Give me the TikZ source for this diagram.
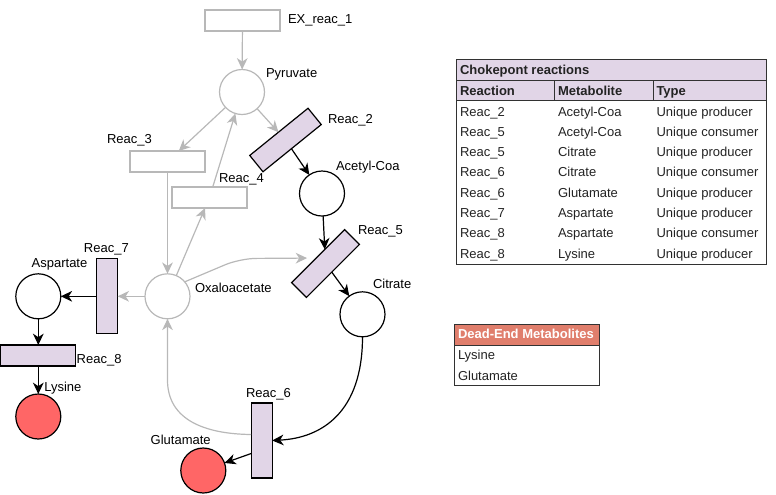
\documentclass[tikz,border=0pt]{standalone}
\usepackage{fontspec}
\setmainfont{Liberation Sans}
\usetikzlibrary{arrows.meta,calc}
\definecolor{lgray}{RGB}{184,184,184}
\definecolor{lpurple}{RGB}{225,213,231}
\definecolor{lred}{RGB}{255,102,102}
\definecolor{dehead}{RGB}{224,126,108}
\definecolor{tabline}{RGB}{50,50,50}
\definecolor{tabtext}{RGB}{35,35,35}
\tikzset{
  arr/.style={line width=0.9pt, draw=black, arrows={-Stealth[length=8.5pt,width=8pt,inset=2.6pt]}},
  garr/.style={arr, draw=lgray},
}
\begin{document}
\begin{tikzpicture}[x=0.75pt,y=-0.75pt,
  font=\fontsize{9.75}{11.7}\selectfont,
  every node/.style={inner sep=0pt, outer sep=0pt},
  reac/.style={draw=black, fill=lpurple, line width=0.9pt, minimum width=56.25pt, minimum height=15.75pt},
  reacv/.style={reac, minimum width=15.75pt, minimum height=56.25pt},
  reacgray/.style={reac, draw=lgray, fill=white},
  met/.style={circle, draw=black, fill=white, line width=0.9pt, minimum size=33.75pt},
  metgray/.style={met, draw=lgray},
  metred/.style={met, fill=lred},
  lbl/.style={anchor=base west, text=black},
  tline/.style={draw=tabline, line width=0.6pt},
  thead/.style={anchor=base west, text=tabtext, font=\fontsize{9.75}{11.7}\selectfont\bfseries},
  tcell/.style={anchor=base west, text=tabtext},
]
\useasboundingbox (0,0) rectangle (776,494);

% ---------- nodes ----------
\node[reacgray] (ex) at (242.5,20.5) {};
\node[lbl] (exl) at (288,23) {EX\_reac\_1};
\node[metgray] (pyr) at (242,92) {};
\node[lbl] (pyrl) at (266,77) {Pyruvate};
\node[reac, rotate=39] (r2) at (285.5,140) {};
\node[lbl] (r2l) at (328,123) {Reac\_2};
\node[met] (acoa) at (322,193.5) {};
\node[lbl] (acoal) at (336,170) {Acetyl-Coa};
\node[reacgray] (r3) at (167.5,161.5) {};
\node[lbl] (r3l) at (107,143) {Reac\_3};
\node[reacgray] (r4) at (209.5,197.5) {};
\node[lbl] (r4l) at (219,182.7) {Reac\_4};
\node[reac, rotate=45] (r5) at (325.5,263.5) {};
\node[lbl] (r5l) at (358,234) {Reac\_5};
\node[met] (cit) at (362.5,314.3) {};
\node[lbl] (citl) at (373,288.3) {Citrate};
\node[metgray] (oxa) at (167.5,296.3) {};
\node[lbl] (oxal) at (195,292.3) {Oxaloacetate};
\node[reacv] (r7) at (107.2,296.3) {};
\node[lbl] (r7l) at (84,252.7) {Reac\_7};
\node[met] (asp) at (38.3,296.3) {};
\node[lbl] (aspl) at (31.7,267.3) {Aspartate};
\node[reac] (r8) at (38.3,355.5) {};
\node[lbl] (r8l) at (76.7,363.3) {Reac\_8};
\node[metred] (lys) at (38.3,416.5) {};
\node[lbl] (lysl) at (44.3,391.7) {Lysine};
\node[reacv] (r6) at (261.7,440.5) {};
\node[lbl] (r6l) at (246,397.3) {Reac\_6};
\node[metred] (glu) at (203.3,470.5) {};
\node[lbl] (glul) at (150.7,444) {Glutamate};

% ---------- connectors ----------
\draw[garr] (ex) -- (pyr);
\draw[garr] (pyr) -- (r2);
\draw[arr] (r2) -- (acoa);
\draw[arr] (acoa) -- (r5);
\draw[arr] (r5) -- (cit);
\draw[arr] (cit.south) .. controls (362.5,412) and (322,438) .. (r6.east);
\draw[garr] ($(r6.west)+(0,-6)$) .. controls (205,434) and (167.5,420) .. (167.5,380) -- (oxa.south);
\draw[arr] ($(r6.west)+(0,13)$) -- (glu);
\draw[garr, rounded corners=12pt] (oxa.40) -- (240,258.5) -- ($(r5.north)+(-11,2)$);
\draw[garr] (oxa) -- (r7);
\draw[arr] (r7) -- (asp);
\draw[arr] (asp) -- (r8);
\draw[arr] (r8) -- (lys);
\draw[garr] (pyr) -- (r3);
\draw[garr] (r3) -- (oxa);
\draw[garr] (oxa) -- (r4);
\draw[garr] (r4) -- (pyr);

% ---------- chokepoint table ----------
\fill[lpurple] (456,59) rectangle (766,100);
\draw[tline] (456,80) -- (766,80);
\draw[tline] (456,100) -- (766,100);
\draw[tline] (554,80) -- (554,100);
\draw[tline] (653,80) -- (653,100);
\draw[tline] (456,59) rectangle (766,264);
\node[thead] (cth) at (460,74) {Chokepont reactions};
\node[thead] (ch1) at (460,95) {Reaction};
\node[thead] (ch2) at (558,95) {Metabolite};
\node[thead] (ch3) at (656.5,95) {Type};
\foreach \i/\r/\m/\t in {0/Reac\_2/Acetyl-Coa/Unique producer,
                         1/Reac\_5/Acetyl-Coa/Unique consumer,
                         2/Reac\_5/Citrate/Unique producer,
                         3/Reac\_6/Citrate/Unique consumer,
                         4/Reac\_6/Glutamate/Unique producer,
                         5/Reac\_7/Aspartate/Unique producer,
                         6/Reac\_8/Aspartate/Unique consumer,
                         7/Reac\_8/Lysine/Unique producer}{
  \node[tcell] (cr\i) at (460,116+20.33*\i) {\r};
  \node[tcell] (cm\i) at (558,116+20.33*\i) {\m};
  \node[tcell] (ct\i) at (656.5,116+20.33*\i) {\t};
}

% ---------- dead-end table ----------
\fill[dehead] (454,324) rectangle (599,345);
\draw[tline] (454,345) -- (599,345);
\draw[tline] (454,324) rectangle (599,385);
\node[thead, text=white] (dh) at (458,338.3) {Dead-End Metabolites};
\node[tcell] (d1) at (458,359.3) {Lysine};
\node[tcell] (d2) at (458,380) {Glutamate};
\end{tikzpicture}
\end{document}
